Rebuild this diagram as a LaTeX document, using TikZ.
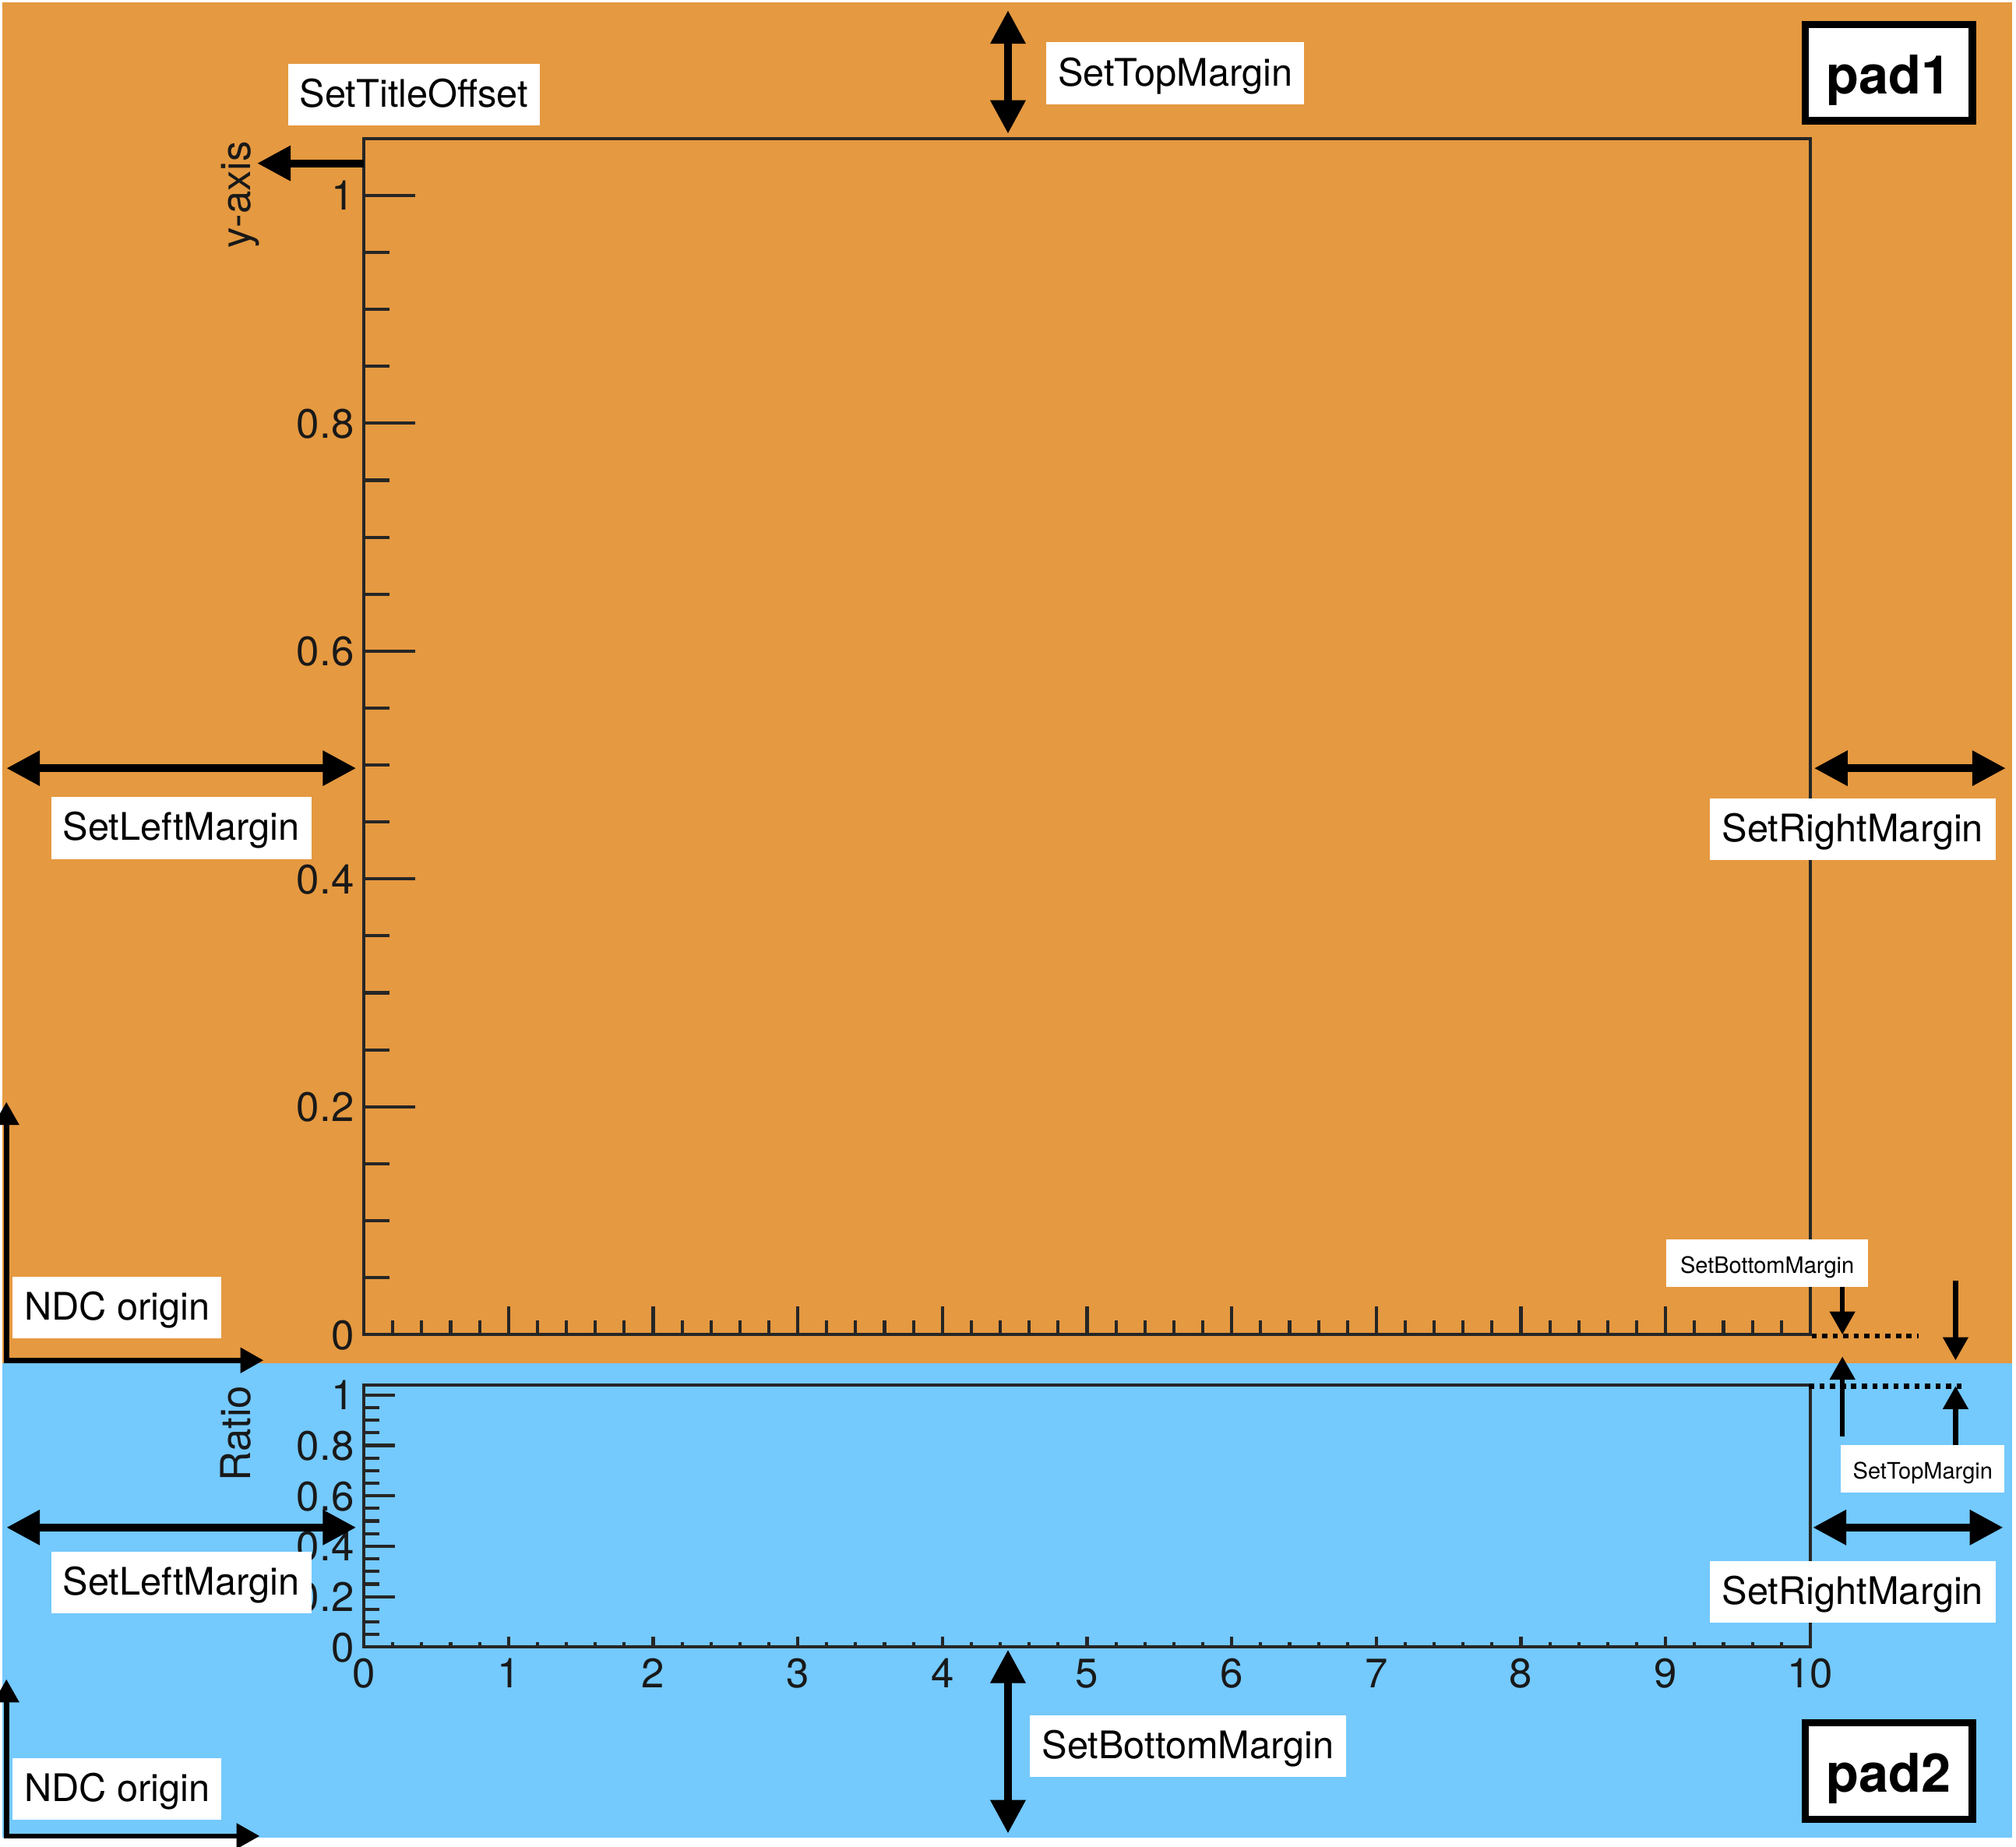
\documentclass[tikz,border=0pt]{standalone}
\usepackage{fontspec}
\setmainfont{TeX Gyre Heros}
\usetikzlibrary{arrows.meta}
\definecolor{padorange}{RGB}{229,153,64}
\definecolor{padblue}{RGB}{116,201,253}
\begin{document}
\begin{tikzpicture}[x=0.01cm, y=-0.01cm,
  lbl/.style={fill=white, inner sep=0pt, font=\fontsize{8.4}{10}\selectfont, text height=5.5pt, text depth=0pt, minimum height=0.48cm},
  slbl/.style={fill=white, inner sep=0pt, font=\fontsize{5}{6}\selectfont, text height=4.3pt, text depth=0pt, minimum height=0.37cm},
  padbox/.style={draw=black, line width=0.057cm, fill=white, inner sep=0pt, minimum width=1.30cm, minimum height=0.75cm, font=\fontsize{11.8}{14}\selectfont\bfseries, text height=9.4pt, text depth=0pt},
  bigarr/.style={line width=0.06cm, -{Triangle[length=0.26cm, width=0.26cm]}},
  bigdbl/.style={line width=0.06cm, {Triangle[length=0.26cm, width=0.26cm]}-{Triangle[length=0.26cm, width=0.26cm]}},
  smallarr/.style={line width=0.04cm, -{Triangle[length=0.18cm, width=0.19cm]}},
  ndcarr/.style={line width=0.04cm, {Triangle[length=0.18cm, width=0.19cm]}-{Triangle[length=0.18cm, width=0.19cm]}},
  dotline/.style={line width=0.04cm, dash pattern=on 0.04cm off 0.042cm},
  plotframe/.style={draw=black!85, line width=0.025cm},
  tickmark/.style={draw=black!85, line width=0.025cm},
  ticklbl/.style={inner sep=0pt, text=black!90, font=\fontsize{9.1}{11}\selectfont, text height=6.5pt, text depth=0pt},
  axtitle/.style={inner sep=0pt, text=black!90, font=\fontsize{9.1}{11}\selectfont, rotate=90, anchor=base east}
]
\useasboundingbox (0,0) rectangle (1568,1436);
\fill[white] (0,0) rectangle (1568,1436);
% pads
\fill[padorange] (2,2) rectangle (1565,1060);
\fill[padblue] (2,1060) rectangle (1565,1429);

% ---- pad1 plot ----
\draw[plotframe] (283,108) rectangle (1408,1038);
\foreach \k in {1,...,49}{
  \pgfmathsetmacro\xx{283+22.5*\k}
  \pgfmathsetmacro\len{ifthenelse(mod(\k,5)==0,22,11)}
  \draw[tickmark] (\xx,1038) -- (\xx,1038-\len);
}
\foreach \k in {1,...,20}{
  \pgfmathsetmacro\yy{1038-44.3*\k}
  \pgfmathsetmacro\len{ifthenelse(mod(\k,4)==0,40,20)}
  \draw[tickmark] (283,\yy) -- (283+\len,\yy);
}
\foreach \v/\lab in {0/0, 4/0.2, 8/0.4, 12/0.6, 16/0.8, 20/1}{
  \node[ticklbl, anchor=east] (ly\v) at (276,1038-44.3*\v) {\lab};
}
\node[axtitle] (ytitle) at (195,109) {y-axis};

% ---- pad2 plot ----
\draw[plotframe] (283,1077) rectangle (1408,1281);
\foreach \k in {1,...,49}{
  \pgfmathsetmacro\xx{283+22.5*\k}
  \pgfmathsetmacro\len{ifthenelse(mod(\k,5)==0,8,4)}
  \draw[tickmark] (\xx,1281) -- (\xx,1281-\len);
}
\foreach \k in {1,...,20}{
  \pgfmathsetmacro\yy{1281-9.8*\k}
  \pgfmathsetmacro\len{ifthenelse(mod(\k,4)==0,24,12)}
  \draw[tickmark] (283,\yy) -- (283+\len,\yy);
}
\foreach \v/\lab in {0/0, 4/0.2, 8/0.4, 12/0.6, 16/0.8, 20/1}{
  \node[ticklbl, anchor=east] (ry\v) at (276,1281-9.8*\v) {\lab};
}
\foreach \i in {0,...,10}{
  \node[ticklbl, anchor=north] (bx\i) at (283+112.5*\i,1289) {\i};
}
\node[axtitle] (rtitle) at (195,1077) {Ratio};

% ---- arrow end points ----
\coordinate (tmA) at (784,8);     \coordinate (tmB) at (784,104);
\coordinate (toA) at (283,127);   \coordinate (toB) at (200,127);
\coordinate (lm1A) at (5,597.5);  \coordinate (lm1B) at (277,597.5);
\coordinate (rm1A) at (1411,597.5); \coordinate (rm1B) at (1560,597.5);
\coordinate (lm2A) at (5,1188);   \coordinate (lm2B) at (277,1188);
\coordinate (rm2A) at (1410,1188); \coordinate (rm2B) at (1558,1188);
\coordinate (bm2A) at (784,1283); \coordinate (bm2B) at (784,1426);
\coordinate (n1top) at (5,857);   \coordinate (n1corner) at (5,1058); \coordinate (n1right) at (205,1058);
\coordinate (n2top) at (5,1306);  \coordinate (n2corner) at (5,1428); \coordinate (n2right) at (202,1428);
\coordinate (sa1A) at (1433,1001); \coordinate (sa1B) at (1433,1038);
\coordinate (sa2A) at (1521,996);  \coordinate (sa2B) at (1521,1058);
\coordinate (sa3A) at (1433,1117); \coordinate (sa3B) at (1433,1055);
\coordinate (sa4A) at (1521,1124); \coordinate (sa4B) at (1521,1078);
\coordinate (d1A) at (1409,1039);  \coordinate (d1B) at (1492,1039);
\coordinate (d2A) at (1407,1078);  \coordinate (d2B) at (1529,1078);

% ---- arrows ----
\draw[bigdbl] (tmA) -- (tmB);
\draw[bigarr] (toA) -- (toB);
\draw[bigdbl] (lm1A) -- (lm1B);
\draw[bigdbl] (rm1A) -- (rm1B);
\draw[bigdbl] (lm2A) -- (lm2B);
\draw[bigdbl] (rm2A) -- (rm2B);
\draw[bigdbl] (bm2A) -- (bm2B);
\draw[ndcarr] (n1top) -- (n1corner) -- (n1right);
\draw[ndcarr] (n2top) -- (n2corner) -- (n2right);
\draw[dotline] (d1A) -- (d1B);
\draw[dotline] (d2A) -- (d2B);
\draw[smallarr] (sa1A) -- (sa1B);
\draw[smallarr] (sa2A) -- (sa2B);
\draw[smallarr] (sa3A) -- (sa3B);
\draw[smallarr] (sa4A) -- (sa4B);

% ---- labels ----
\node[lbl, minimum width=2.00cm] (topm1) at (914,57) {SetTopMargin};
\node[lbl, minimum width=1.96cm] (titoff) at (322,73.6) {SetTitleOffset};
\node[lbl, minimum width=2.02cm] (leftm1) at (141,644) {SetLeftMargin};
\node[lbl, minimum width=2.22cm] (rightm1) at (1441,645) {SetRightMargin};
\node[lbl, minimum width=1.62cm] (ndc1) at (91,1017) {NDC origin};
\node[slbl, minimum width=1.57cm] (botm1) at (1374.5,982.5) {SetBottomMargin};
\node[slbl, minimum width=1.27cm] (topm2) at (1495.5,1142.5) {SetTopMargin};
\node[lbl, minimum width=2.02cm] (leftm2) at (141,1231) {SetLeftMargin};
\node[lbl, minimum width=2.22cm] (rightm2) at (1441,1238) {SetRightMargin};
\node[lbl, minimum width=2.46cm] (botm2) at (924,1358) {SetBottomMargin};
\node[lbl, minimum width=1.62cm] (ndc2) at (91,1391.5) {NDC origin};
\node[padbox] (pad1) at (1469,56.5) {pad1};
\node[padbox] (pad2) at (1469,1377.5) {pad2};
\end{tikzpicture}
\end{document}
